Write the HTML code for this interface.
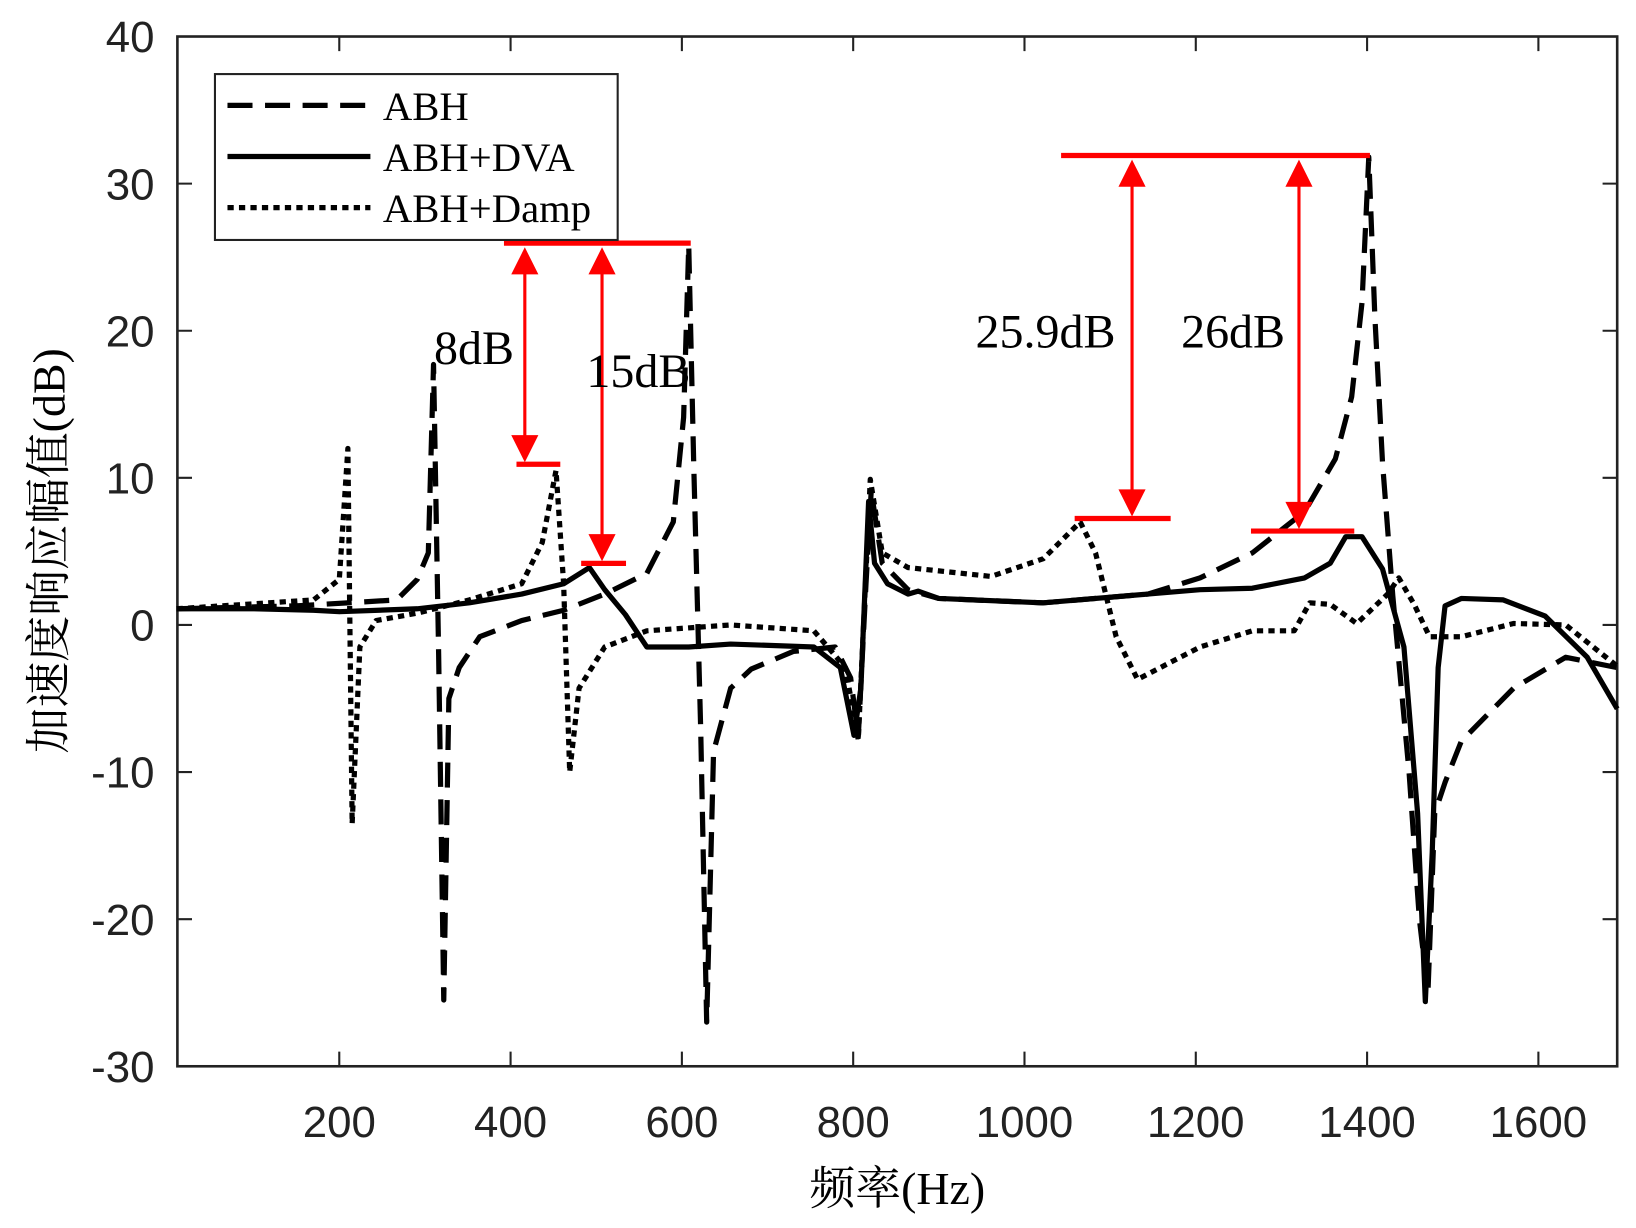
<!DOCTYPE html>
<html><head><meta charset="utf-8"><style>
html,body{margin:0;padding:0;background:#fff}
svg{display:block}
.tk{font-family:"Liberation Sans",Arial,sans-serif;font-size:42px;fill:#222}
.sf{font-family:"Liberation Serif","Noto Serif CJK SC",serif;fill:#000}
</style></head><body>
<svg id="chart" width="1636" height="1228" viewBox="0 0 1568 1177" xmlns="http://www.w3.org/2000/svg">
<rect x="0" y="0" width="1568" height="1177" fill="#fff"/>
<g id="axes"></g>
<g id="series"></g>
<g id="annot"></g>
<g>
<rect x="206" y="71" width="386" height="159" fill="#fff" stroke="#222" stroke-width="2"/>
<line x1="218" y1="101" x2="355" y2="101" stroke="#000" stroke-width="5" stroke-dasharray="24,12"/>
<text x="367" y="115" class="sf" font-size="39">ABH</text>
<line x1="218" y1="150" x2="355" y2="150" stroke="#000" stroke-width="5"/>
<text x="367" y="164" class="sf" font-size="39">ABH+DVA</text>
<line x1="218" y1="199" x2="355" y2="199" stroke="#000" stroke-width="5" stroke-dasharray="6,5"/>
<text x="367" y="213" class="sf" font-size="39">ABH+Damp</text>
</g>
<text x="860" y="1154" class="sf" font-size="44" text-anchor="middle">频率(Hz)</text>
<text transform="translate(62,528) rotate(-90)" class="sf" font-size="44" text-anchor="middle">加速度响应幅值(dB)</text>
</svg>
<script>
const xTicks=[200,400,600,800,1000,1200,1400,1600];
const yTicks=[-30,-20,-10,0,10,20,30,40];
const abhF=[10,150,267,291,304,310,316,322,328,340,364,413,462,510,559,590,602,608,614,622,629,637,657,681,730,779,797,806,815,821,834,864,900,1022,1144,1205,1266,1327,1363,1382,1394,1402,1409,1418,1430,1449,1461,1471,1479,1491,1510,1571,1632,1692];
const abhV=[1.1,1.3,1.7,3.1,4.9,17.7,-2,-25.5,-5,-2.9,-0.8,0.3,1.0,2.1,3.5,7.0,14.1,25.8,10.6,-7.2,-27,-8.6,-4.3,-3,-1.8,-1.5,-3.6,-7.6,2.8,9.1,4.2,2.4,1.8,1.5,2.1,3.2,4.9,7.7,11.3,15.5,21.9,31.8,21,11,2,-10,-20,-25,-12.8,-10.7,-7.9,-4.3,-2.2,-2.9];
const dvaF=[10,100,170,200,291,352,413,462,492,510,534,559,608,657,754,785,801,809,818,825,840,864,876,900,1022,1144,1205,1266,1327,1357,1375,1394,1418,1443,1459,1468,1476,1483,1491,1510,1559,1608,1657,1692];
const dvaV=[1.1,1.1,1.0,0.9,1.1,1.5,2.1,2.8,3.9,2.4,0.7,-1.5,-1.5,-1.3,-1.5,-2.9,-7.5,-4.3,8.4,4.2,2.8,2.1,2.3,1.8,1.5,2.1,2.4,2.5,3.2,4.2,6.0,6.0,3.8,-1.5,-12.8,-25.6,-15.5,-2.9,1.3,1.8,1.7,0.6,-2.2,-5.7];
const dmpF=[10,170,200,210,215,224,243,291,352,413,437,453,462,469,480,510,559,657,754,791,806,820,834,864,961,1022,1065,1083,1107,1132,1205,1266,1315,1333,1357,1388,1424,1437,1455,1473,1510,1571,1632,1692];
const dmpV=[1.1,1.7,3.1,12,-13.5,-1.5,0.3,0.8,1.7,2.8,5.6,10.5,2.8,-10,-4.3,-1.5,-0.4,0,-0.4,-2.9,-7.8,9.9,4.9,3.9,3.3,4.5,7.0,4.9,-0.8,-3.7,-1.5,-0.4,-0.4,1.5,1.4,0.1,2.1,3.2,1.4,-0.8,-0.8,0.1,0,-2.8];
const NS='http://www.w3.org/2000/svg';
const X0=170,X1=1550,Y0=1022,Y1=35,FMIN=11,FMAX=1692,VMIN=-30,VMAX=40;
function xs(f){return X0+(f-FMIN)/(FMAX-FMIN)*(X1-X0);}
function ys(v){return Y0-(v-VMIN)/(VMAX-VMIN)*(Y0-Y1);}
function mk(tag,attrs,parent){const e=document.createElementNS(NS,tag);for(const k in attrs)e.setAttribute(k,attrs[k]);parent.appendChild(e);return e;}
const ax=document.getElementById('axes');
const frame=mk('rect',{x:X0,y:Y1,width:X1-X0,height:Y0-Y1,fill:'none',stroke:'#222','stroke-width':2.5},ax);


xTicks.forEach(t=>{const x=xs(t);
const l=mk('path',{d:`M${x},${Y0}v-14M${x},${Y1}v14`,stroke:'#222','stroke-width':2},ax);


const tx=mk('text',{x:x,y:Y0+68,'text-anchor':'middle',class:'tk'},ax);tx.textContent=t;

});
yTicks.forEach(t=>{const y=ys(t);
const l=mk('path',{d:`M${X0},${y}h14M${X1},${y}h-14`,stroke:'#222','stroke-width':2},ax);


const tx=mk('text',{x:148,y:y+15,'text-anchor':'end',class:'tk'},ax);tx.textContent=t;

});
const sg=document.getElementById('series');
function line(F,V,dash,name){const d=F.map((f,i)=>(i?'L':'M')+xs(f).toFixed(1)+','+ys(V[i]).toFixed(1)).join('');
const p=mk('path',{d:d,fill:'none',stroke:'#000','stroke-width':5,'stroke-linejoin':'round'},sg);
if(dash)p.setAttribute('stroke-dasharray',dash);

}
line(dmpF,dmpV,'6,5','series-abh-damp');
line(abhF,abhV,'24,12','series-abh');
line(dvaF,dvaV,null,'series-abh-dva');
const an=document.getElementById('annot');
function hl(x1,x2,y){const e=mk('line',{x1:x1,x2:x2,y1:y,y2:y,stroke:'#f00','stroke-width':5},an);

}
function arr(x,y1,y2){const g=mk('g',{},an);


mk('line',{x1:x,x2:x,y1:y1+20,y2:y2-20,stroke:'#f00','stroke-width':3},g);
mk('path',{d:`M${x},${y1+2}l-13,26h26z`,fill:'#f00'},g);
mk('path',{d:`M${x},${y2-2}l-13,-26h26z`,fill:'#f00'},g);}
hl(483,662,233);hl(495,537,445);hl(557,600,540);
hl(1017,1313,149);hl(1030,1122,497);hl(1199,1298,509);
arr(503,235,445);arr(577,235,540);arr(1085,151,497);arr(1245,151,509);
[['8dB',416,349],['15dB',562,371],['25.9dB',935,333],['26dB',1132,333]].forEach(a=>{
const t=mk('text',{x:a[1],y:a[2],class:'sf','font-size':46},an);t.textContent=a[0];

});
</script>
</body></html>
